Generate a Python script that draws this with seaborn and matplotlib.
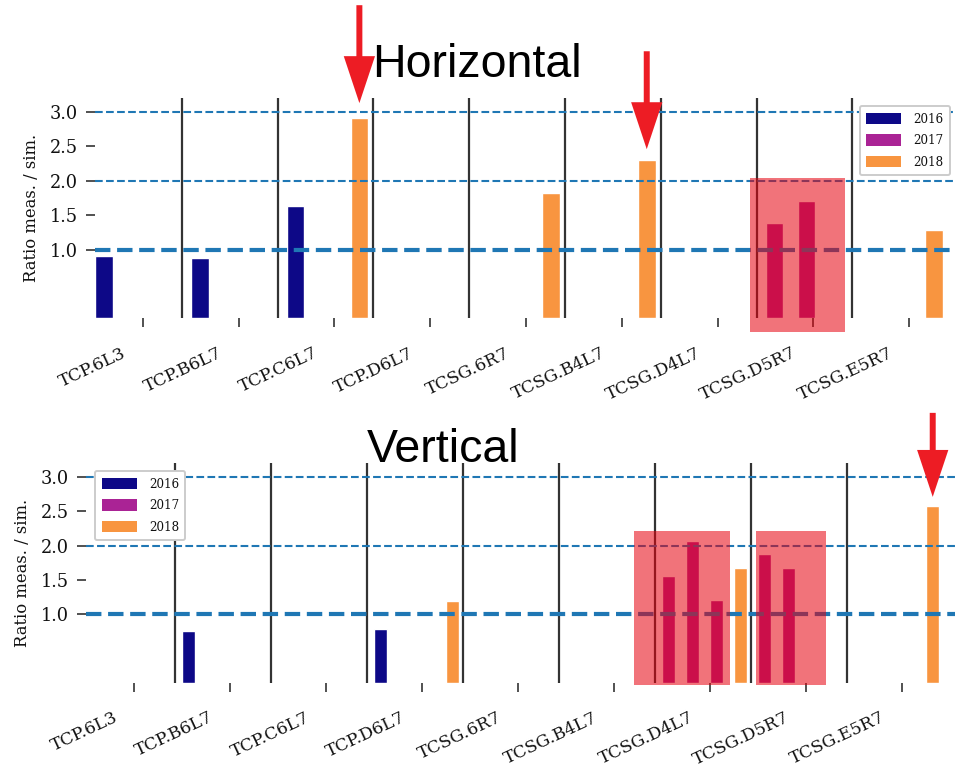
import matplotlib
matplotlib.use("Agg")
import matplotlib.pyplot as plt
import matplotlib.transforms as mtransforms
from matplotlib.patches import Patch, Rectangle
import pandas as pd
import seaborn as sns

# ---------------------------------------------------------------- data
ELEMENTS = ["TCP.6L3", "TCP.B6L7", "TCP.C6L7", "TCP.D6L7", "TCSG.6R7",
            "TCSG.B4L7", "TCSG.D4L7", "TCSG.D5R7", "TCSG.E5R7"]
YEARS = ["2016", "2017", "2018"]

# horizontal plane: one entry per measurement
hor_element = ["TCP.6L3", "TCP.B6L7", "TCP.C6L7", "TCP.C6L7", "TCSG.6R7",
               "TCSG.B4L7", "TCSG.D5R7", "TCSG.D5R7", "TCSG.E5R7"]
hor_meas = [0, 0, 0, 2, 2, 2, 0, 1, 2]
hor_year = ["2016", "2016", "2016", "2018", "2018", "2018", "2017", "2017", "2018"]
hor_ratio = [0.91, 0.87, 1.64, 2.92, 1.82, 2.30, 1.38, 1.70, 1.28]

# vertical plane: one entry per measurement
ver_element = ["TCP.B6L7", "TCP.D6L7", "TCP.D6L7", "TCSG.D4L7", "TCSG.D4L7",
               "TCSG.D4L7", "TCSG.D4L7", "TCSG.D5R7", "TCSG.D5R7", "TCSG.E5R7"]
ver_meas = [0, 0, 3, 0, 1, 2, 3, 0, 1, 3]
ver_year = ["2016", "2016", "2018", "2017", "2017", "2017", "2018", "2017", "2017", "2018"]
ver_ratio = [0.75, 0.78, 1.19, 1.55, 2.06, 1.21, 1.68, 1.88, 1.67, 2.58]

YTICKS = [1.0, 1.5, 2.0, 2.5, 3.0]

# highlighted regions (x0, x1, y0, y1) and flagged measurements (element, meas, gap, arrow length in pt)
HOR_BOXES = [(20.5, 23.5, -0.2, 2.04)]
VER_BOXES = [(22.85, 26.83, -0.03, 2.21), (27.9, 30.85, -0.03, 2.21)]
HOR_FLAGS = [("TCP.C6L7", 2, 0.21, 70.5), ("TCSG.B4L7", 2, 0.16, 70.5)]
VER_FLAGS = [("TCSG.E5R7", 3, 0.13, 60.5)]

# ---------------------------------------------------------------- style
sns.set_style("white")
SERIF = ["DejaVu Serif"]
plt.rcParams["font.family"] = SERIF
plt.rcParams["lines.scale_dashes"] = True

cmap = matplotlib.colormaps["plasma"]
PALETTE = {y: matplotlib.colors.to_hex(cmap(v)) for y, v in zip(YEARS, [0.0, 0.375, 0.75])}
LINE_BLUE = "#1f77b4"
SEP_GREY = "#333333"
TEXT_COL = "#111111"
ARROW_RED = "#ed1c24"
BOX_RED = (231 / 255, 0.0, 13 / 255)
BAR_SHIFT = 0.28

W, H = 955, 769
fig = plt.figure(figsize=(W / 100, H / 100), dpi=100)


def draw_panel(rect_px, slots, xmax, element, meas, year, ratio, boxes, flags,
               legend_loc, legend_anchor_px):
    left, top, right, bottom = rect_px
    ax = fig.add_axes([left / W, 1 - bottom / H, (right - left) / W, (bottom - top) / H])

    idx = [ELEMENTS.index(e) for e in element]
    df = pd.DataFrame({
        "pos": [i * slots + m + BAR_SHIFT for i, m in zip(idx, meas)],
        "ratio": ratio,
        "year": year,
    })
    sns.barplot(data=df, x="pos", y="ratio", hue="year", hue_order=YEARS,
                palette=PALETTE, native_scale=True, width=0.55, dodge=False,
                errorbar=None, saturation=1, legend=False, ax=ax, zorder=1)

    # element separators
    for k in range(len(ELEMENTS) - 1):
        ax.axvline((k + 1) * slots - BAR_SHIFT, color=SEP_GREY, lw=1.6, zorder=2)
    # reference levels
    ax.axhline(1.0, ls="--", lw=3.0, color=LINE_BLUE, zorder=2.5)
    for yv in (2.0, 3.0):
        ax.axhline(yv, ls="--", lw=1.5, color=LINE_BLUE, zorder=2.5)

    ax.set_xlim(0, xmax)
    ax.set_ylim(0, 3.2)
    for s in ax.spines.values():
        s.set_visible(False)

    ax.set_yticks(YTICKS)
    ax.set_yticklabels([f"{t:.1f}" for t in YTICKS], fontsize=12.8, color=TEXT_COL)
    ax.set_xticks([k * slots + slots / 2 for k in range(len(ELEMENTS))])
    ax.set_xticklabels(ELEMENTS, rotation=25, ha="right", fontsize=12.4, color=TEXT_COL)
    ax.tick_params(axis="both", which="major", direction="out", length=6.5, width=1.2,
                   color=SEP_GREY, bottom=True, left=True)
    ax.tick_params(axis="y", pad=6.0)
    ax.tick_params(axis="x", pad=12.5)
    shift = mtransforms.ScaledTranslation(-0.14, 0, fig.dpi_scale_trans)
    for lbl in ax.get_xticklabels():
        lbl.set_transform(lbl.get_transform() + shift)

    ax.set_xlabel("")
    ax.set_ylabel("Ratio meas. / sim.", fontsize=11.8, labelpad=7, color=TEXT_COL)

    # highlighted regions
    for x0, x1, y0, y1 in boxes:
        ax.add_patch(Rectangle((x0, y0), x1 - x0, y1 - y0, facecolor=BOX_RED,
                               alpha=0.55, lw=0, zorder=3, clip_on=False))

    # flagged measurements
    lookup = {(e, m): (i * slots + m + BAR_SHIFT, r)
              for e, m, i, r in zip(element, meas, idx, ratio)}
    for e, m, gap, length in flags:
        xb, rb = lookup[(e, m)]
        ax.annotate("", xy=(xb, rb + gap), xytext=(0, length), textcoords="offset points",
                    arrowprops=dict(arrowstyle="simple,head_length=33.8,head_width=22.5,tail_width=4.3",
                                    mutation_scale=1, color=ARROW_RED, lw=0,
                                    shrinkA=0, shrinkB=0),
                    annotation_clip=False, zorder=6)

    handles = [Patch(facecolor=PALETTE[y], edgecolor="none", label=y) for y in YEARS]
    leg = ax.legend(handles=handles, loc=legend_loc,
                    bbox_to_anchor=(legend_anchor_px[0] / W, 1 - legend_anchor_px[1] / H),
                    bbox_transform=fig.transFigure, borderaxespad=0, fontsize=8.6,
                    handlelength=2.95, handleheight=1.1, labelspacing=0.72,
                    handletextpad=1.0, borderpad=0.55, framealpha=1, fancybox=True)
    for t in leg.get_texts():
        t.set_color(TEXT_COL)
    leg.get_frame().set_edgecolor("#cccccc")
    leg.get_frame().set_linewidth(1.4)
    leg.set_zorder(5)
    return ax


ax_h = draw_panel((95, 98.3, 957.1, 318.3), 3, 27.0,
                  hor_element, hor_meas, hor_year, hor_ratio,
                  HOR_BOXES, HOR_FLAGS, "upper right", (950, 106))
ax_v = draw_panel((86, 463.3, 956, 682.7), 4, 36.25,
                  ver_element, ver_meas, ver_year, ver_ratio,
                  VER_BOXES, VER_FLAGS, "upper left", (95, 471))

fig.text(477.2 / W, 1 - 76.7 / H, "Horizontal", ha="center", va="baseline",
         fontsize=33.5, family=["Liberation Sans"], color="black")
fig.text(443.4 / W, 1 - 461.7 / H, "Vertical", ha="center", va="baseline",
         fontsize=33.5, family=["Liberation Sans"], color="black")

fig.savefig("out.png", dpi=100)
